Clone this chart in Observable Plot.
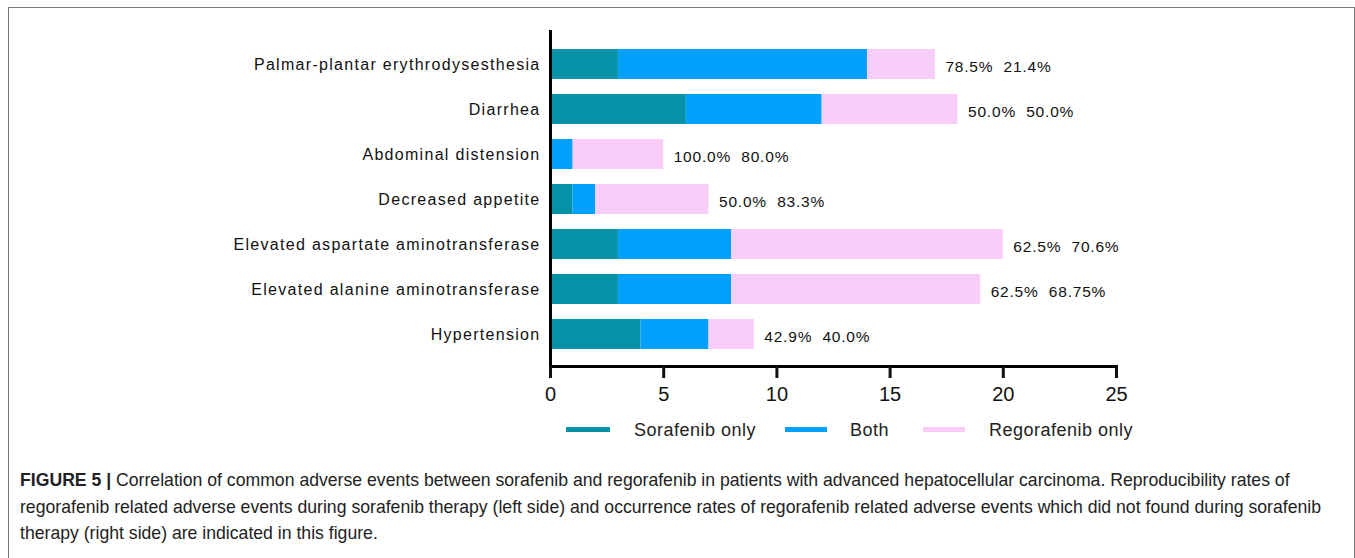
<!DOCTYPE html>
<html>
<head>
<meta charset="utf-8">
<script src="https://cdn.jsdelivr.net/npm/d3@7"></script>
<script src="https://cdn.jsdelivr.net/npm/@observablehq/plot@0.6"></script>
<style>
  html, body { margin: 0; padding: 0; background: #fff; }
  body { width: 1355px; height: 558px; position: relative; overflow: hidden; font-family: "Liberation Sans", Arial, sans-serif; }
  #box { position: absolute; left: 8px; top: 7px; width: 1347px; height: 700px; border: 1.5px solid #777; border-bottom: none; box-sizing: border-box; }
  #chart { position: absolute; left: 0; top: 0; }
  .leg { position: absolute; top: 418px; height: 24px; display: flex; align-items: center; font-size: 18px; color: #222; letter-spacing: 0.5px; }
  .sw { position: absolute; height: 5px; top: 427px; }
  .cap { position: absolute; left: 20px; font-family: "Liberation Sans", Arial, sans-serif; font-size: 18.5px; color: #222; white-space: nowrap; line-height: 24px; transform-origin: 0 50%; }
  .cap b { font-weight: bold; }
</style>
</head>
<body>
<div id="box"></div>
<div id="chart"></div>
<div id="legend"></div>
<div id="caption"></div>
<script>
const categories = [
  "Palmar-plantar erythrodysesthesia",
  "Diarrhea",
  "Abdominal distension",
  "Decreased appetite",
  "Elevated aspartate aminotransferase",
  "Elevated alanine aminotransferase",
  "Hypertension"
];
const sorafenibOnly   = [3, 6, 0, 1, 3, 3, 4];
const both            = [11, 6, 1, 1, 5, 5, 3];
const regorafenibOnly = [3, 6, 4, 5, 12, 11, 2];
const leftPct  = ["78.5%", "50.0%", "100.0%", "50.0%", "62.5%", "62.5%", "42.9%"];
const rightPct = ["21.4%", "50.0%", "80.0%", "83.3%", "70.6%", "68.75%", "40.0%"];
const seriesNames  = ["Sorafenib only", "Both", "Regorafenib only"];
const seriesColors = ["#0592a6", "#00a0fc", "#f8cdf8"];
const xTicks = [0, 5, 10, 15, 20, 25];
const captionLines = [
  ["FIGURE 5 |", " Correlation of common adverse events between sorafenib and regorafenib in patients with advanced hepatocellular carcinoma. Reproducibility rates of"],
  ["", "regorafenib related adverse events during sorafenib therapy (left side) and occurrence rates of regorafenib related adverse events which did not found during sorafenib"],
  ["", "therapy (right side) are indicated in this figure."]
];

const seriesValues = [sorafenibOnly, both, regorafenibOnly];
const table = [];
seriesNames.forEach((s, si) => categories.forEach((c, ci) => table.push({category: c, series: s, value: seriesValues[si][ci]})));
const totals = categories.map((c, i) => ({
  category: c,
  total: sorafenibOnly[i] + both[i] + regorafenibOnly[i],
  label: leftPct[i] + "\u00a0\u00a0" + rightPct[i]
}));

const chart = Plot.plot({
  width: 1355,
  height: 410,
  marginLeft: 550,
  marginRight: 239,
  marginTop: 31,
  marginBottom: 44,
  style: {fontFamily: "'Liberation Sans', Arial, sans-serif", color: "#111", background: "transparent"},
  x: {domain: [0, 25], label: null},
  y: {domain: categories, paddingInner: 0.34, paddingOuter: 0.35, label: null},
  color: {domain: seriesNames, range: seriesColors},
  marks: [
    Plot.barX(table, Plot.stackX({y: "category", x: "value", fill: "series", z: "series", order: seriesNames})),
    Plot.text(totals, {x: "total", y: "category", text: "label", textAnchor: "start", dx: 10, dy: 3, fontSize: 15.5, fill: "#111"}),
    Plot.frame({anchor: "left", stroke: "#000", strokeWidth: 3}),
    Plot.frame({anchor: "bottom", stroke: "#000", strokeWidth: 3}),
    Plot.axisX({ticks: xTicks, tickSize: 12, tickPadding: 8, strokeWidth: 3, fontSize: 20, tickFormat: d => String(d), label: null}),
    Plot.axisY({tickSize: 0, tickPadding: 10, fontSize: 16, label: null})
  ]
});
document.getElementById("chart").appendChild(chart);
d3.select(chart).selectAll('g[aria-label="y-axis tick label"] text').style("letter-spacing", "1.3px");
d3.select(chart).selectAll('g[aria-label="text"] text').style("letter-spacing", "0.8px");

// legend
const legend = document.getElementById("legend");
const swX = [566, 785, 923], swW = [44, 42, 42], txX = [634, 850, 989];
seriesNames.forEach((s, i) => {
  const sw = document.createElement("div");
  sw.className = "sw";
  sw.style.left = swX[i] + "px";
  sw.style.width = swW[i] + "px";
  sw.style.background = seriesColors[i];
  legend.appendChild(sw);
  const t = document.createElement("div");
  t.className = "leg";
  t.style.left = txX[i] + "px";
  t.textContent = s;
  legend.appendChild(t);
});

// caption (condensed to the reference's line width)
const cap = document.getElementById("caption");
const capTop = [468, 495, 521];
const lines = captionLines.map((ln, i) => {
  const d = document.createElement("div");
  d.className = "cap";
  d.style.top = capTop[i] + "px";
  if (ln[0]) { const b = document.createElement("b"); b.textContent = ln[0]; d.appendChild(b); }
  d.appendChild(document.createTextNode(ln[1]));
  cap.appendChild(d);
  return d;
});
const w2 = lines[1].getBoundingClientRect().width;
const k = 1301 / w2;
lines.forEach(d => d.style.transform = `scaleX(${k})`);
</script>
</body>
</html>
